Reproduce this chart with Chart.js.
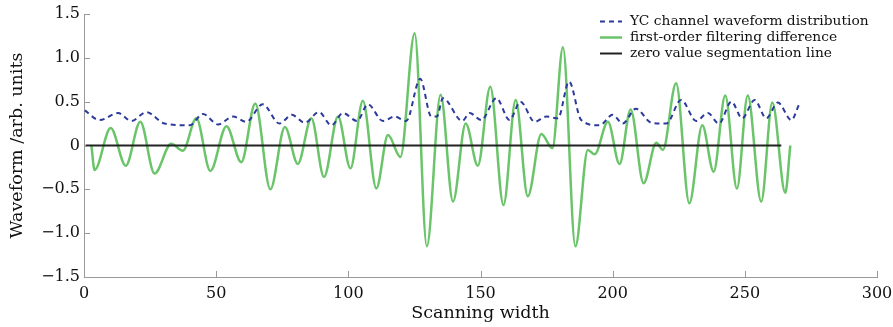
<!DOCTYPE html>
<html>
<head>
<meta charset="utf-8">
<script src="https://cdn.jsdelivr.net/npm/chart.js@4"></script>
<style>
  html, body { margin: 0; padding: 0; background: #fff; }
  #wrap { width: 893px; height: 327px; }
</style>
</head>
<body>
<div id="wrap"><canvas id="grafico"></canvas></div>
<script>
// etiquetas de la leyenda
const nombres = ["YC channel waveform distribution", "first-order filtering difference", "zero value segmentation line"];

// curva azul (YC channel)
const azulX = [0.3, 5.9, 12.9, 17.9, 23.6, 30.5, 40, 45, 50.7, 56.4, 61.4, 67.6, 74, 78.6, 83.5, 88.9, 93.6, 98, 103.3, 107.4, 113.1, 117.5, 121.9, 127.2, 131.4, 133.5, 135.8, 143.1, 145.9, 150.3, 156, 161, 165.1, 170.5, 174.9, 179.3, 183.5, 188.1, 195, 200, 203.8, 208.8, 214.6, 220.3, 225.9, 231.6, 236, 240.2, 244.9, 249, 253.7, 258.1, 262.5, 267.6, 270.4];
const azulY = [0.40, 0.29, 0.37, 0.28, 0.38, 0.25, 0.23, 0.36, 0.24, 0.33, 0.27, 0.47, 0.25, 0.35, 0.26, 0.38, 0.23, 0.37, 0.28, 0.47, 0.28, 0.33, 0.28, 0.76, 0.33, 0.33, 0.54, 0.28, 0.37, 0.29, 0.54, 0.29, 0.50, 0.27, 0.33, 0.31, 0.73, 0.29, 0.23, 0.35, 0.25, 0.42, 0.26, 0.25, 0.52, 0.28, 0.37, 0.25, 0.50, 0.31, 0.52, 0.31, 0.49, 0.29, 0.46];

// curva verde (diferencia de filtrado)
const verdeX = [2.8, 4.0, 10.1, 15.8, 21.3, 26.7, 33, 37.4, 42.5, 47.8, 53.9, 59.5, 64.8, 70.5, 76.0, 80.9, 86.0, 90.8, 96.1, 100.8, 105.5, 110.6, 115.0, 119.7, 125.1, 129.7, 134.9, 139.6, 144.4, 149.0, 153.7, 158.7, 163.3, 167.9, 173.0, 177.2, 181.2, 185.9, 190.6, 193.2, 198.2, 202.6, 206.8, 211.7, 216.5, 219.0, 224.0, 229.0, 233.9, 238.2, 242.6, 247.0, 251.1, 256.2, 260.4, 265.3, 267.2];
const verdeY = [0.0, -0.28, 0.20, -0.23, 0.27, -0.32, 0.02, -0.06, 0.31, -0.29, 0.22, -0.19, 0.48, -0.50, 0.21, -0.21, 0.31, -0.36, 0.33, -0.26, 0.51, -0.49, 0.12, -0.13, 1.28, -1.15, 0.58, -0.64, 0.25, -0.23, 0.67, -0.68, 0.52, -0.58, 0.13, -0.03, 1.12, -1.15, -0.05, -0.10, 0.27, -0.21, 0.41, -0.43, 0.03, -0.05, 0.71, -0.66, 0.23, -0.30, 0.57, -0.49, 0.57, -0.64, 0.49, -0.54, 0.0];

// linea de cero
const ceroX = [0.6, 263.8];
const ceroY = [0, 0];

// ticks de los ejes
const ticksX = [0, 50, 100, 150, 200, 250, 300];
const ticksY = [-1.5, -1.0, -0.5, 0, 0.5, 1.0, 1.5];

const colores = ["#2c3a9c", "#6ac46a", "#222222"];
const fuente = "'DejaVu Serif', serif";

function puntos(xs, ys) {
    return xs.map((x, i) => ({ x: x, y: ys[i] }));
}

// leyenda dentro del grafico y ticks hacia adentro
const extras = {
    id: "extras",
    afterDraw(chart) {
        const ctx = chart.ctx;
        const sx = chart.scales.x;
        const sy = chart.scales.y;
        ctx.save();
        ctx.strokeStyle = "#999";
        ctx.lineWidth = 1;
        ticksX.forEach((v) => {
            if (v === 0) return;
            const px = Math.round(sx.getPixelForValue(v)) + 0.5;
            ctx.beginPath();
            ctx.moveTo(px, sy.bottom);
            ctx.lineTo(px, sy.bottom - 6);
            ctx.stroke();
        });
        ticksY.forEach((v) => {
            const py = Math.round(sy.getPixelForValue(v)) + 0.5;
            ctx.beginPath();
            ctx.moveTo(sx.left, py);
            ctx.lineTo(sx.left + 6, py);
            ctx.stroke();
        });
        // leyenda
        const filas = [21.5, 37.5, 53.5];
        ctx.font = "13.8px " + fuente;
        ctx.textBaseline = "middle";
        ctx.fillStyle = "#111";
        chart.data.datasets.forEach((ds, i) => {
            const y = filas[i];
            ctx.beginPath();
            ctx.strokeStyle = ds.borderColor;
            ctx.lineWidth = ds.borderWidth;
            ctx.setLineDash(ds.borderDash || []);
            ctx.moveTo(600, y);
            ctx.lineTo(622, y);
            ctx.stroke();
            ctx.setLineDash([]);
            ctx.fillText(nombres[i], 630, y);
        });
        ctx.restore();
    }
};

new Chart(document.getElementById("grafico").getContext("2d"), {
    type: "line",
    data: {
        datasets: [
            {
                label: nombres[0],
                data: puntos(azulX, azulY),
                borderColor: colores[0],
                borderWidth: 2,
                borderDash: [5, 4],
                cubicInterpolationMode: "monotone",
                pointRadius: 0,
                order: 1
            },
            {
                label: nombres[1],
                data: puntos(verdeX, verdeY),
                borderColor: colores[1],
                borderWidth: 2.5,
                cubicInterpolationMode: "monotone",
                pointRadius: 0,
                order: 2
            },
            {
                label: nombres[2],
                data: puntos(ceroX, ceroY),
                borderColor: colores[2],
                borderWidth: 2,
                pointRadius: 0,
                order: 0
            }
        ]
    },
    options: {
        responsive: true,
        maintainAspectRatio: false,
        animation: false,
        layout: { padding: { top: 14, right: 16, left: 0, bottom: 0 } },
        plugins: {
            legend: { display: false },
            tooltip: { enabled: false }
        },
        scales: {
            x: {
                type: "linear",
                min: 0,
                max: 300,
                afterBuildTicks: (s) => { s.ticks = ticksX.map((v) => ({ value: v })); },
                afterFit: (s) => { s.height = 50; s.paddingRight = 0; s.paddingLeft = 0; },
                grid: { display: false, drawTicks: false },
                border: { display: true, color: "#999", width: 1 },
                ticks: {
                    color: "#111",
                    padding: 7,
                    maxRotation: 0,
                    font: { family: fuente, size: 16 }
                },
                title: {
                    display: true,
                    text: "Scanning width",
                    color: "#111",
                    font: { family: fuente, size: 17.5 },
                    padding: { top: 0, bottom: 3 }
                }
            },
            y: {
                min: -1.5,
                max: 1.5,
                afterBuildTicks: (s) => { s.ticks = ticksY.map((v) => ({ value: v })); },
                afterFit: (s) => { s.width = 84; s.paddingTop = 0; s.paddingBottom = 0; },
                grid: { display: false, drawTicks: false },
                border: { display: true, color: "#999", width: 1 },
                ticks: {
                    color: "#111",
                    padding: 4,
                    font: { family: fuente, size: 16 },
                    callback: (v) => (v === 0 ? "0" : v.toFixed(1).replace("-", "\u2212"))
                },
                title: {
                    display: true,
                    text: "Waveform /arb. units",
                    color: "#111",
                    font: { family: fuente, size: 17.5 },
                    padding: { top: 7, bottom: 0 }
                }
            }
        }
    },
    plugins: [extras]
});
</script>
</body>
</html>
